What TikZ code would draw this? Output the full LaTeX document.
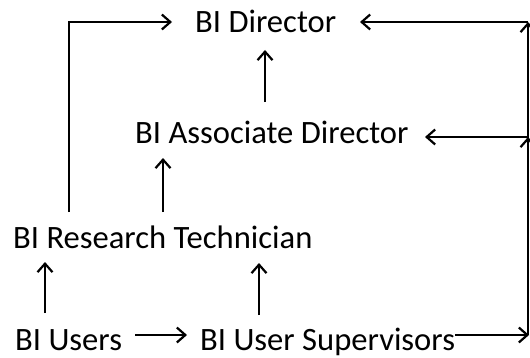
\documentclass[tikz,border=0pt]{standalone}
\usepackage{fontspec}
\setmainfont{Carlito}
\usetikzlibrary{arrows.meta,calc}
\begin{document}
\begin{tikzpicture}[x=1pt,y=1pt,
  lbl/.style={inner sep=0pt,anchor=base west,font=\fontsize{32.6}{38}\selectfont},
  arr/.style={line width=2.2pt,-{Straight Barb[length=8.5pt,width=15pt,line width=2.2pt]}},
  ln/.style={line width=2.2pt}]
\useasboundingbox (0,0) rectangle (530,357);
\node[lbl] (D) at (195,324) {BI Director};
\node[lbl] (A) at (135,214) {BI Associate Director};
\node[lbl] (R) at (13,109) {BI Research Technician};
\node[lbl] (U) at (15,7) {BI Users};
\node[lbl] (S) at (200,7) {BI User Supervisors};
\coordinate (xl) at (69,0);
\coordinate (xad) at (265,0);
\coordinate (xra) at (163,0);
\coordinate (xur) at (45,0);
\coordinate (xsr) at (259,0);
\coordinate (rb) at (528,22);
\coordinate (rm) at (528,220);
\coordinate (rt) at (528,335);
\coordinate (re) at (529,22);
% bottom row
\draw[arr] ($(U.base west)+(120,15)$) -- ($(S.base west)+(-13,15)$);
\draw[arr] ($(S.base east)+(0,15)$) -- (re);
% right side
\draw[arr] (rb) -- (rt);
\draw[arr] (rb) -- (rm);
\draw[arr] (rt) -- ($(D.base west)+(165,11)$);
\draw[arr] (rm) -- ($(A.base west)+(290,6)$);
% verticals
\draw[arr] ($(A.base -| xad)+(0,41)$) -- ($(D.base -| xad)+(0,-17)$);
\draw[arr] ($(R.base -| xra)+(0,36)$) -- ($(A.base -| xra)+(0,-15)$);
\draw[arr] ($(U.base -| xur)+(0,37)$) -- ($(R.base -| xur)+(0,-14)$);
\draw[arr] ($(S.base -| xsr)+(0,35)$) -- ($(R.base -| xsr)+(0,-15)$);
\draw[arr] ($(R.base -| xl)+(0,36)$) |- ($(D.base west)+(-23,11)$);
\end{tikzpicture}
\end{document}
